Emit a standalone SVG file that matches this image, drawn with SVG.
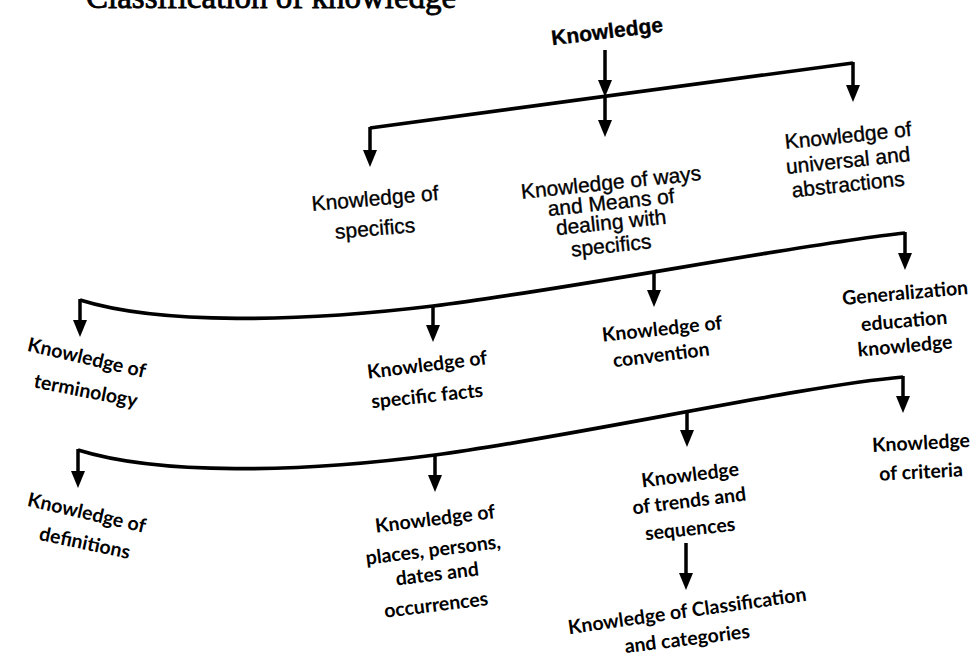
<svg xmlns="http://www.w3.org/2000/svg" width="976" height="661" viewBox="0 0 976 661">
<style>
.l1{font-family:"Liberation Sans",Arial,sans-serif;font-size:21px;fill:#000;stroke:#000;stroke-width:0.35;text-anchor:middle;dominant-baseline:central}
.l2{font-family:Lato,"Open Sans",sans-serif;font-weight:bold;font-size:19.5px;fill:#000;text-anchor:middle;dominant-baseline:central}
.ln{fill:none;stroke:#000;stroke-width:3.7}
.ar{fill:none;stroke:#000;stroke-width:3.5;marker-end:url(#ah)}
</style>
<defs>
<marker id="ah" markerUnits="userSpaceOnUse" markerWidth="17" markerHeight="14" viewBox="0 0 17 14" refX="9" refY="7" orient="auto">
<path d="M0,0 L17,7 L0,14 Z" fill="#000"/>
</marker>
</defs>
<rect width="976" height="661" fill="#fff"/>
<text x="86" y="8" font-family="Liberation Serif,serif" font-size="33" stroke="#000" stroke-width="0.8">Classification of knowledge</text>

<g id="connectors">
<line class="ar" x1="605" y1="50" x2="605" y2="89"/>
<line class="ar" x1="605" y1="98" x2="605" y2="129"/>
<path class="ln" d="M370,128 L853,63"/>
<line class="ar" x1="370" y1="127" x2="370" y2="159"/>
<line class="ar" x1="853" y1="62" x2="853" y2="94"/>
<path class="ln" d="M80,300 C160,325 300,322 433,306 S800,244 905,233"/>
<line class="ar" x1="80" y1="299" x2="80" y2="329"/>
<line class="ar" x1="905" y1="232" x2="905" y2="262"/>
<line class="ar" x1="433" y1="305" x2="433" y2="334"/>
<line class="ar" x1="654" y1="271" x2="654" y2="299"/>
<path class="ln" d="M78,450 C158,475 298,473 435,455 S800,386 903,377"/>
<line class="ar" x1="78" y1="449" x2="78" y2="480"/>
<line class="ar" x1="903" y1="376" x2="903" y2="405"/>
<line class="ar" x1="435" y1="454" x2="435" y2="484"/>
<line class="ar" x1="687" y1="411" x2="687" y2="439"/>
<line class="ar" x1="686" y1="543" x2="686" y2="582"/>
</g>

<g id="n-knowledge">
<text class="l1" x="607" y="31" font-weight="bold" font-size="24" transform="rotate(-7 607 31)">Knowledge</text>
</g>
<g id="n-specifics">
<text class="l1" x="375" y="198" font-size="23" transform="rotate(-5 375 198)">Knowledge of</text>
<text class="l1" x="375" y="228" font-size="23" transform="rotate(-5 375 228)">specifics</text>
</g>
<g id="n-ways">
<text class="l1" x="611" y="182" font-size="22" transform="rotate(-6 611 182)">Knowledge of ways</text>
<text class="l1" x="611" y="202" font-size="22" transform="rotate(-6 611 202)">and Means of</text>
<text class="l1" x="611" y="222" font-size="22" transform="rotate(-6 611 222)">dealing with</text>
<text class="l1" x="611" y="245" font-size="22" transform="rotate(-6 611 245)">specifics</text>
</g>
<g id="n-universal">
<text class="l1" x="848" y="135" transform="rotate(-6 848 135)">Knowledge of</text>
<text class="l1" x="848" y="160" transform="rotate(-6 848 160)">universal and</text>
<text class="l1" x="848" y="184" transform="rotate(-6 848 184)">abstractions</text>
</g>
<g id="n-terminology">
<text class="l2" x="87" y="357" transform="rotate(13 87 357)">Knowledge of</text>
<text class="l2" x="86" y="390" transform="rotate(11 86 390)">terminology</text>
</g>
<g id="n-facts">
<text class="l2" x="427" y="364" transform="rotate(-7 427 364)">Knowledge of</text>
<text class="l2" x="427" y="395" transform="rotate(-6 427 395)">specific facts</text>
</g>
<g id="n-convention">
<text class="l2" x="662" y="328" transform="rotate(-6 662 328)">Knowledge of</text>
<text class="l2" x="661" y="354" transform="rotate(-7 661 354)">convention</text>
</g>
<g id="n-generalization">
<text class="l2" x="905" y="292" transform="rotate(-5 905 292)">Generalization</text>
<text class="l2" x="904" y="320" transform="rotate(-5 904 320)">education</text>
<text class="l2" x="905" y="345" transform="rotate(-5 905 345)">knowledge</text>
</g>
<g id="n-definitions">
<text class="l2" x="87" y="512" transform="rotate(13 87 512)">Knowledge of</text>
<text class="l2" x="85" y="542" transform="rotate(12 85 542)">definitions</text>
</g>
<g id="n-places">
<text class="l2" x="435" y="518" transform="rotate(-7 435 518)">Knowledge of</text>
<text class="l2" x="433" y="549" transform="rotate(-7 433 549)">places, persons,</text>
<text class="l2" x="437" y="573" transform="rotate(-7 437 573)">dates and</text>
<text class="l2" x="436" y="604" transform="rotate(-7 436 604)">occurrences</text>
</g>
<g id="n-trends">
<text class="l2" x="690" y="474" transform="rotate(-7 690 474)">Knowledge</text>
<text class="l2" x="689" y="500" transform="rotate(-7 689 500)">of trends and</text>
<text class="l2" x="690" y="528" transform="rotate(-6 690 528)">sequences</text>
</g>
<g id="n-classification">
<text class="l2" x="687" y="610" transform="rotate(-8 687 610)">Knowledge of Classification</text>
<text class="l2" x="687" y="638" transform="rotate(-7 687 638)">and categories</text>
</g>
<g id="n-criteria">
<text class="l2" x="921" y="442" transform="rotate(-3 921 442)">Knowledge</text>
<text class="l2" x="921" y="471" transform="rotate(-3 921 471)">of criteria</text>
</g>
</svg>
